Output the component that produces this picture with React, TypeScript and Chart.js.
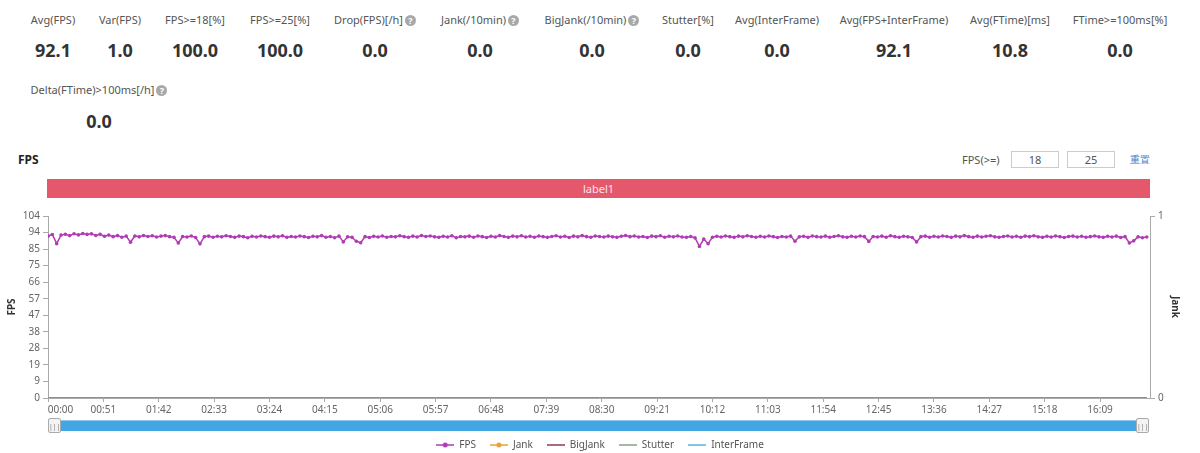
import React, { useEffect, useRef } from 'react';
import { Chart, registerables } from 'chart.js';

Chart.register(...registerables);

// ---------- data ----------
const statLabels = ['Avg(FPS)', 'Var(FPS)', 'FPS>=18[%]', 'FPS>=25[%]', 'Drop(FPS)[/h]', 'Jank(/10min)', 'BigJank(/10min)', 'Stutter[%]', 'Avg(InterFrame)', 'Avg(FPS+InterFrame)', 'Avg(FTime)[ms]', 'FTime>=100ms[%]', 'Delta(FTime)>100ms[/h]'];
const statValues = ['92.1', '1.0', '100.0', '100.0', '0.0', '0.0', '0.0', '0.0', '0.0', '92.1', '10.8', '0.0', '0.0'];
const statHelp = [false, false, false, false, true, true, true, false, false, false, false, false, true];

const xTickLabels = ['00:00', '00:51', '01:42', '02:33', '03:24', '04:15', '05:06', '05:57', '06:48', '07:39', '08:30', '09:21', '10:12', '11:03', '11:54', '12:45', '13:36', '14:27', '15:18', '16:09'];
const yTickLabels = ['0', '9', '19', '28', '38', '47', '57', '66', '75', '85', '94', '104'];
const y1TickLabels = ['0', '1'];
const xMaxSeconds = 1015;
const yMax = 104;

const sampleIntervalSec = 4;
const fpsValues = [
  92.5, 93.4, 88.2, 93.1, 93.6, 92.8, 93.9, 93.2, 94.0, 93.5,
  93.8, 92.9, 93.6, 92.4, 93.1, 92.2, 92.8, 91.9, 92.5, 89.0,
  92.6, 92.1, 92.9, 92.3, 92.7, 92.0, 92.5, 92.8, 92.2, 91.8,
  88.6, 92.3, 92.0, 92.6, 91.7, 88.1, 92.2, 92.5, 91.9, 92.4,
  92.1, 92.7, 92.3, 91.8, 92.5, 92.2, 91.6, 92.4, 92.0, 92.6,
  92.2, 91.9, 92.5, 92.1, 92.7, 91.8, 92.3, 92.0, 92.6, 92.2,
  91.7, 92.4, 92.1, 92.8, 91.9, 92.3, 91.6, 92.5, 89.2, 92.1,
  91.8, 89.6, 88.7, 92.2, 91.7, 92.4, 92.0, 92.6, 91.9, 92.3,
  92.1, 92.7, 92.2, 91.8, 92.5, 92.0, 92.9, 92.3, 92.6, 92.1,
  91.8, 92.4, 92.0, 92.7, 91.6, 92.3, 92.1, 92.5, 91.9, 92.6,
  92.2, 91.7, 92.4, 92.0, 92.8, 92.3, 91.8, 92.5, 92.1, 92.7,
  92.0, 92.4, 91.9, 92.6, 92.2, 91.8, 92.3, 92.7, 92.0, 92.4,
  91.7, 92.5, 92.1, 92.8, 92.2, 91.9, 92.6, 92.3, 92.0, 92.5,
  92.1, 91.8, 92.4, 92.9, 92.2, 92.6, 92.0, 92.3, 91.7, 92.5,
  92.2, 92.7, 91.9, 92.4, 92.1, 92.6, 92.0, 91.8, 92.3, 91.5,
  86.6, 90.8, 88.2, 91.9, 92.4, 92.0, 92.6, 92.2, 91.8, 92.5,
  92.1, 92.7, 92.3, 91.9, 92.4, 92.0, 92.6, 92.2, 91.7, 92.3,
  92.0, 92.5, 89.6, 92.1, 92.4, 91.8, 92.6, 92.2, 92.0, 92.5,
  91.9, 92.3, 92.7, 92.1, 91.8, 92.4, 92.0, 92.6, 92.2, 89.5,
  92.3, 92.0, 92.5, 91.9, 92.7, 92.2, 91.8, 92.4, 92.1, 91.7,
  89.2, 92.2, 92.5, 91.9, 92.4, 92.0, 92.6, 92.3, 91.8, 92.5,
  92.1, 92.8, 92.2, 91.9, 92.5, 92.0, 92.4, 92.7, 92.1, 91.8,
  92.3, 92.6, 92.0, 92.4, 91.9, 92.5, 92.2, 92.7, 92.1, 91.8,
  92.4, 92.0, 92.6, 92.2, 91.7, 92.3, 92.5, 92.0, 92.4, 91.9,
  92.2, 92.6, 92.1, 91.8, 92.4, 92.0, 92.5, 91.7, 92.2, 88.6,
  89.8, 92.1, 91.6, 92.0,
];
const zeroSeriesTimes = [0, 1012];
const jankValues = [0, 0];
const bigJankValues = [0, 0];
const stutterValues = [0, 0];
const interFrameValues = [0, 0];

const seriesNames = ['FPS', 'Jank', 'BigJank', 'Stutter', 'InterFrame'];

// ---------- styles ----------
const colors = {
  fps: '#b03cb5',
  jank: '#e9a23b',
  bigJank: '#8e3b4f',
  stutter: '#8c9c88',
  interFrame: '#5ab2dc',
};
const statCenters = [53, 120, 195, 280, 375, 480, 592, 688, 777, 894, 1010, 1120, 99];
const statRows = [0, 0, 0, 0, 0, 0, 0, 0, 0, 0, 0, 0, 1];
const FONT = '"Noto Sans", "DejaVu Sans", sans-serif';
const CANVAS_TOP = 200;
const CANVAS_H = 260;
// first x label is aligned to start of axis (leading em/en spaces)
const FIRST_LABEL_PAD = '\u2003\u2003\u2002';

function parseMmSs(s: string) {
  const [m, sec] = s.split(':').map(Number);
  return m * 60 + sec;
}

function makeIcon(color: string, circle: boolean) {
  const c = document.createElement('canvas');
  c.width = 18;
  c.height = 8;
  const ctx = c.getContext('2d')!;
  ctx.strokeStyle = color;
  ctx.lineWidth = 1.5;
  ctx.beginPath();
  ctx.moveTo(0, 4);
  ctx.lineTo(18, 4);
  ctx.stroke();
  if (circle) {
    ctx.fillStyle = color;
    ctx.beginPath();
    ctx.arc(9, 4, 2.5, 0, Math.PI * 2);
    ctx.fill();
  }
  return c;
}

const HelpIcon = () => (
  <span style={{
    display: 'inline-block', width: 11, height: 11, borderRadius: 6, background: '#a8a8a8',
    color: '#fff', fontSize: 9, lineHeight: '11px', textAlign: 'center', marginLeft: 2, fontWeight: 700,
  }}>?</span>
);

export default function App() {
  const ref = useRef<HTMLCanvasElement>(null);

  useEffect(() => {
    document.body.style.margin = '0';
    const icons = [
      makeIcon(colors.fps, true),
      makeIcon(colors.jank, true),
      makeIcon(colors.bigJank, false),
      makeIcon(colors.stutter, false),
      makeIcon(colors.interFrame, false),
    ];
    const xTickSeconds = xTickLabels.map(parseMmSs);
    const zeroData = (vals: number[]) => vals.map((v, i) => ({ x: zeroSeriesTimes[i], y: v }));

    const chart = new Chart(ref.current!, {
      type: 'line',
      data: {
        datasets: [
          {
            label: seriesNames[0],
            data: fpsValues.map((v, i) => ({ x: i * sampleIntervalSec, y: v })),
            borderColor: colors.fps,
            backgroundColor: colors.fps,
            borderWidth: 1.5,
            pointRadius: 1.8,
            pointBorderWidth: 0,
            pointBackgroundColor: colors.fps,
            yAxisID: 'y',
          },
          {
            label: seriesNames[1],
            data: zeroData(jankValues),
            borderColor: colors.jank,
            backgroundColor: colors.jank,
            borderWidth: 1,
            pointRadius: 0,
            yAxisID: 'y1',
          },
          {
            label: seriesNames[2],
            data: zeroData(bigJankValues),
            borderColor: colors.bigJank,
            backgroundColor: colors.bigJank,
            borderWidth: 1,
            pointRadius: 0,
            yAxisID: 'y',
          },
          {
            label: seriesNames[3],
            data: zeroData(stutterValues),
            borderColor: colors.stutter,
            backgroundColor: colors.stutter,
            borderWidth: 2,
            pointRadius: 0,
            yAxisID: 'y',
          },
          {
            label: seriesNames[4],
            data: zeroData(interFrameValues),
            borderColor: colors.interFrame,
            backgroundColor: colors.interFrame,
            borderWidth: 1,
            pointRadius: 0,
            yAxisID: 'y',
          },
        ],
      },
      options: {
        responsive: false,
        animation: false,
        layout: { padding: { top: 16, left: 0, right: 0, bottom: 0 } },
        plugins: {
          tooltip: { enabled: false },
          legend: {
            position: 'bottom',
            labels: {
              usePointStyle: true,
              pointStyleWidth: 18,
              padding: 14,
              color: '#555',
              font: { family: FONT, size: 10 },
              generateLabels: (ch: any) => {
                const items = (Chart.defaults.plugins.legend.labels as any).generateLabels(ch);
                items.forEach((it: any, i: number) => {
                  it.pointStyle = icons[i];
                  it.fontColor = '#555';
                });
                return items;
              },
            },
          },
        },
        scales: {
          x: {
            type: 'linear',
            min: 0,
            max: xMaxSeconds,
            afterBuildTicks: (s: any) => { s.ticks = xTickSeconds.map((v) => ({ value: v })); },
            afterFit: (s: any) => { s.height = 28; },
            grid: { drawOnChartArea: false, drawTicks: true, tickLength: 4, color: '#aaa' },
            border: { display: true, color: '#aaa' },
            ticks: {
              autoSkip: false,
              maxRotation: 0,
              align: 'center',
              padding: 2,
              color: '#666',
              font: { family: FONT, size: 10 },
              callback: (_v: any, i: number) => (i === 0 ? FIRST_LABEL_PAD + xTickLabels[i] : xTickLabels[i]),
            },
          },
          y: {
            position: 'left',
            min: 0,
            max: yMax,
            afterBuildTicks: (s: any) => {
              s.ticks = yTickLabels.map((_, i) => ({ value: (i * yMax) / (yTickLabels.length - 1) }));
            },
            afterFit: (s: any) => { s.width = 48; },
            grid: { drawOnChartArea: false, drawTicks: true, tickLength: 5, color: '#aaa' },
            border: { display: true, color: '#aaa' },
            ticks: {
              color: '#666',
              padding: 3,
              font: { family: FONT, size: 10 },
              callback: (_v: any, i: number) => yTickLabels[i],
            },
            title: {
              display: true,
              text: 'FPS',
              color: '#333',
              font: { family: FONT, size: 10, weight: 'bold' },
              padding: { top: 6, bottom: 0 },
            },
          },
          y1: {
            position: 'right',
            min: 0,
            max: 1,
            afterBuildTicks: (s: any) => {
              s.ticks = y1TickLabels.map((_, i) => ({ value: i }));
            },
            afterFit: (s: any) => { s.width = 50; },
            grid: { drawOnChartArea: false, drawTicks: true, tickLength: 5, color: '#aaa' },
            border: { display: true, color: '#aaa' },
            ticks: {
              color: '#666',
              padding: 3,
              font: { family: FONT, size: 10 },
              callback: (_v: any, i: number) => y1TickLabels[i],
            },
            title: {
              display: true,
              text: 'Jank',
              color: '#333',
              font: { family: FONT, size: 10, weight: 'bold' },
              padding: { top: 19, bottom: 0 },
            },
          },
        },
      } as any,
    });
    return () => chart.destroy();
  }, []);

  return (
    <div style={{ position: 'fixed', left: 0, top: 0, width: 1200, height: 453, overflow: 'hidden', background: '#fff', fontFamily: FONT }}>
      {statLabels.map((lab, i) => {
        const rowOffset = statRows[i] * 70;
        return (
          <React.Fragment key={lab}>
            <div style={{
              position: 'absolute', left: statCenters[i] - 90, width: 180, top: 12 + rowOffset,
              textAlign: 'center', fontSize: 11, lineHeight: '16px', color: '#555', whiteSpace: 'nowrap',
            }}>
              {lab}{statHelp[i] ? <HelpIcon /> : null}
            </div>
            <div style={{
              position: 'absolute', left: statCenters[i] - 90, width: 180, top: 38 + rowOffset + (statRows[i] ? 1 : 0),
              textAlign: 'center', fontSize: 18, lineHeight: '24px', fontWeight: 700, color: '#333',
            }}>
              {statValues[i]}
            </div>
          </React.Fragment>
        );
      })}

      <div style={{ position: 'absolute', left: 18, top: 151, fontSize: 12, fontWeight: 700, color: '#222', lineHeight: '18px' }}>FPS</div>

      <div style={{ position: 'absolute', left: 962, top: 151, fontSize: 11, color: '#555', lineHeight: '17px' }}>FPS(&gt;=)</div>
      <div style={{ position: 'absolute', left: 1011, top: 151, width: 46, height: 15, border: '1px solid #ccc', fontSize: 11, color: '#555', lineHeight: '15px', textAlign: 'center' }}>18</div>
      <div style={{ position: 'absolute', left: 1067, top: 151, width: 46, height: 15, border: '1px solid #ccc', fontSize: 11, color: '#555', lineHeight: '15px', textAlign: 'center' }}>25</div>
      <div style={{ position: 'absolute', left: 1130, top: 151, fontSize: 10, color: '#3a78c8', lineHeight: '17px' }}>重置</div>

      <div style={{
        position: 'absolute', left: 47, top: 179, width: 1103, height: 19, background: '#e5576b',
        color: '#fde4ea', fontSize: 11, lineHeight: '19px', textAlign: 'center',
      }}>label1</div>

      <div style={{ position: 'absolute', left: 0, top: CANVAS_TOP, width: 1200, height: CANVAS_H }}>
        <canvas ref={ref} width={1200} height={CANVAS_H} style={{ width: 1200, height: CANVAS_H, display: 'block' }} />
      </div>

      <div style={{ position: 'absolute', left: 50, top: 420, width: 1098, height: 11, background: '#42a6e4', borderTop: '1px solid #8fcaf0', boxSizing: 'border-box' }} />
      <div style={{
        position: 'absolute', left: 48, top: 418, width: 13, height: 15, background: '#f3f3f3', border: '1px solid #aaa',
        borderRadius: 2, fontSize: 7, color: '#777', textAlign: 'center', lineHeight: '15px', boxSizing: 'border-box',
      }}>|||</div>
      <div style={{
        position: 'absolute', left: 1136, top: 418, width: 13, height: 15, background: '#f3f3f3', border: '1px solid #aaa',
        borderRadius: 2, fontSize: 7, color: '#777', textAlign: 'center', lineHeight: '15px', boxSizing: 'border-box',
      }}>|||</div>
    </div>
  );
}
